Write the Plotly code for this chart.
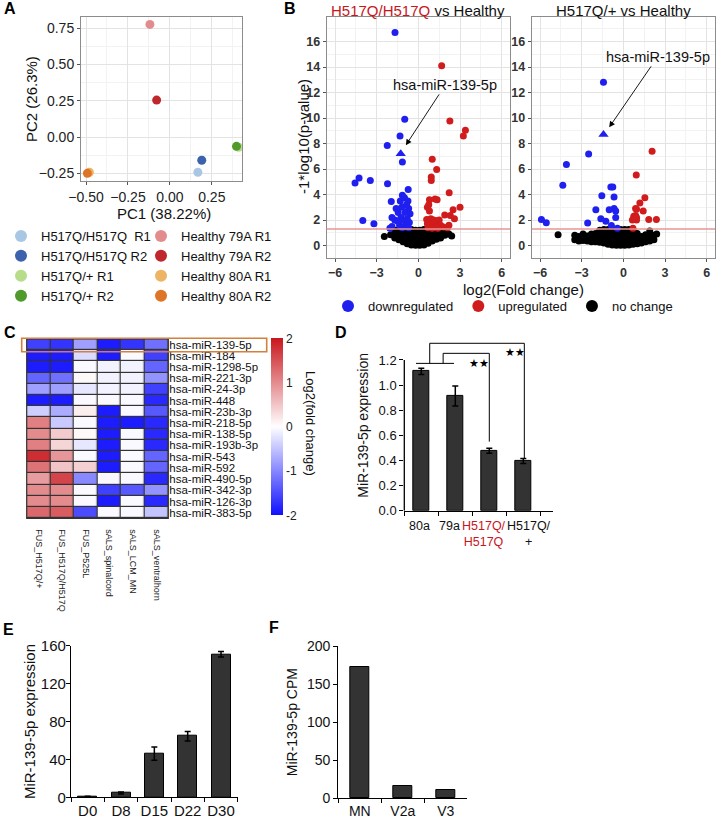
import plotly.graph_objects as go

W, H = 718, 823
def fx(p): return p / W
def fy(p): return 1 - p / H

FONT = "Liberation Sans, Arial, sans-serif"

# ---------------- Panel A: PCA ----------------
pca_labels = ["H517Q/H517Q  R1", "H517Q/H517Q R2", "H517Q/+ R1", "H517Q/+ R2",
              "Healthy 79A R1", "Healthy 79A R2", "Healthy 80A R1", "Healthy 80A R2"]
pca_pc1 = [0.167, 0.19, 0.41, 0.397, -0.119, -0.079, -0.48, -0.492]
pca_pc2 = [-0.243, -0.16, -0.07, -0.064, 0.777, 0.255, -0.243, -0.25]
pca_colors = ["#A9C7E3", "#3B62AC", "#B7DC8C", "#4F9A2B",
              "#E38C8E", "#C0272D", "#EBB563", "#DE7427"]

# ---------------- Panel B: volcano plots ----------------
hh_down_x = [-1.68, -0.98, -1.32, -2.24, -1.15, -4.56, -4.27, -3.46, -2.22, -0.73,
             -1.15, -1.0, -1.3, -0.75, -1.95, -0.85, -1.6, -1.2, -0.7, -1.45,
             -0.95, -0.6, -4.0, -3.2, -1.9, -1.7, -1.5, -1.25, -1.05, -0.8,
             -0.65, -1.9, -1.35, -0.95, -0.7, -1.15, -2.05]
hh_down_y = [16.7, 9.9, 8.6, 7.85, 6.55, 4.9, 5.3, 5.1, 4.85, 4.4,
             3.95, 3.75, 3.5, 3.5, 3.45, 3.2, 2.9, 3.0, 2.9, 2.6,
             2.6, 2.5, 1.97, 1.7, 2.2, 2.0, 1.9, 2.2, 2.0, 2.1,
             1.8, 1.5, 1.6, 1.55, 1.4, 1.4, 1.35]
hh_up_x = [1.68, 2.27, 3.39, 3.24, 1.0, 1.32, 0.93, 0.93, 2.22, 0.8,
           1.2, 1.35, 0.75, 0.65, 3.0, 0.8, 2.5, 1.9, 2.3, 2.6,
           0.6, 0.75, 0.9, 1.1, 1.3, 1.5, 0.65, 0.85, 1.05, 1.25,
           1.6, 1.8, 2.1, 0.7, 1.0, 1.4, 2.2]
hh_up_y = [14.1, 9.76, 9.05, 8.6, 6.77, 5.96, 5.38, 5.1, 4.15, 3.6,
           3.65, 3.6, 3.2, 3.0, 3.0, 2.7, 2.8, 2.4, 2.35, 2.1,
           2.05, 2.0, 2.1, 2.0, 1.95, 2.0, 1.7, 1.6, 1.75, 1.5,
           1.6, 1.45, 1.4, 1.4, 1.35, 1.35, 1.6]
hh_nc_x = [-2.45, -2.0,
           -1.7, -1.7, -1.7,
           -1.4, -1.4, -1.4, -1.4,
           -1.1, -1.1, -1.1, -1.1, -1.1,
           -0.8, -0.8, -0.8, -0.8, -0.8, -0.8,
           -0.5, -0.5, -0.5, -0.5, -0.5, -0.5, -0.5,
           -0.2, -0.2, -0.2, -0.2, -0.2, -0.2, -0.2,
           0.1, 0.1, 0.1, 0.1, 0.1, 0.1, 0.1,
           0.4, 0.4, 0.4, 0.4, 0.4, 0.4, 0.4,
           0.7, 0.7, 0.7, 0.7, 0.7, 0.7,
           1.0, 1.0, 1.0, 1.0, 1.0,
           1.3, 1.3, 1.3, 1.3,
           1.6, 1.6, 1.6,
           1.9, 1.9,
           2.2, 2.4]
hh_nc_y = [0.7, 0.85,
           0.6, 0.9, 1.2,
           0.45, 0.65, 0.95, 1.25,
           0.3, 0.45, 0.7, 0.95, 1.25,
           0.15, 0.3, 0.5, 0.75, 1.0, 1.25,
           0.05, 0.15, 0.3, 0.5, 0.75, 1.0, 1.25,
           0.02, 0.1, 0.25, 0.45, 0.7, 0.95, 1.2,
           0.02, 0.1, 0.25, 0.45, 0.7, 0.95, 1.2,
           0.05, 0.12, 0.3, 0.5, 0.75, 1.0, 1.25,
           0.18, 0.3, 0.5, 0.75, 1.0, 1.25,
           0.35, 0.5, 0.7, 0.95, 1.2,
           0.5, 0.65, 0.9, 1.2,
           0.6, 0.85, 1.1,
           0.8, 1.0,
           0.9, 0.75]
hh_mir139 = (-1.27, 7.2)

het_down_x = [-1.43, -2.5, -4.1, -4.36, -5.9, -5.55, -2.57, -0.9, -0.76, -1.55,
              -0.67, -1.98, -1.02, -0.67, -0.55, -1.62, -1.26, -0.55, -0.86, -0.43]
het_down_y = [12.8, 7.17, 6.35, 4.72, 2.05, 1.78, 1.76, 4.6, 4.6, 3.9,
              3.8, 2.8, 2.8, 2.9, 2.7, 2.1, 1.9, 2.2, 1.57, 1.36]
het_up_x = [2.07, 0.93, 1.55, 1.19, 0.88, 0.95, 1.43, 0.75, 0.88, 0.95,
            0.65, 0.95, 0.82, 1.83, 2.38, 0.69]
het_up_y = [7.4, 5.54, 3.75, 3.33, 2.9, 2.85, 2.7, 2.3, 2.35, 2.2,
            2.0, 2.0, 2.15, 2.05, 2.05, 1.36]
het_nc_x = [-4.7,
            -3.5, -3.5, -3.2, -3.2, -2.9, -2.9, -2.6, -2.6,
            -2.3, -2.3, -2.3, -2.0, -2.0, -2.0,
            -1.7, -1.7, -1.7, -1.7,
            -1.4, -1.4, -1.4, -1.4, -1.4,
            -1.1, -1.1, -1.1, -1.1, -1.1,
            -0.8, -0.8, -0.8, -0.8, -0.8,
            -0.5, -0.5, -0.5, -0.5, -0.5, -0.5,
            -0.2, -0.2, -0.2, -0.2, -0.2, -0.2,
            0.1, 0.1, 0.1, 0.1, 0.1, 0.1,
            0.4, 0.4, 0.4, 0.4, 0.4, 0.4,
            0.7, 0.7, 0.7, 0.7, 0.7,
            1.0, 1.0, 1.0, 1.0,
            1.3, 1.3, 1.3,
            1.6, 1.6, 1.6,
            1.9, 1.9, 1.9,
            2.2, 2.2, 2.4]
het_nc_y = [0.85,
            0.45, 0.8, 0.35, 0.7, 0.4, 0.9, 0.35, 0.75,
            0.3, 0.6, 0.9, 0.3, 0.6, 0.95,
            0.25, 0.55, 0.85, 1.2,
            0.2, 0.5, 0.8, 1.1, 1.25,
            0.1, 0.4, 0.7, 1.0, 1.25,
            0.05, 0.3, 0.6, 0.9, 1.2,
            0.02, 0.25, 0.5, 0.8, 1.1, 1.25,
            0.02, 0.2, 0.45, 0.7, 1.0, 1.25,
            0.02, 0.2, 0.45, 0.7, 1.0, 1.25,
            0.05, 0.25, 0.5, 0.8, 1.1, 1.25,
            0.1, 0.35, 0.6, 0.9, 1.2,
            0.15, 0.4, 0.65, 0.95,
            0.2, 0.45, 0.7,
            0.3, 0.6, 0.85,
            0.35, 0.7, 1.15,
            0.45, 0.8, 0.9]
het_mir139 = (-1.43, 8.7)
p_threshold = 1.3

# ---------------- Panel C: heatmap ----------------
hm_cols = ["FUS_H517Q/+", "FUS_H517Q/H517Q", "FUS_P525L",
           "sALS_spinalcord", "sALS_LCM_MN", "sALS_ventralhorn"]
hm_rows = ["hsa-miR-139-5p", "hsa-miR-184", "hsa-miR-1298-5p", "hsa-miR-221-3p",
           "hsa-miR-24-3p", "hsa-miR-448", "hsa-miR-23b-3p", "hsa-miR-218-5p",
           "hsa-miR-138-5p", "hsa-miR-193b-3p", "hsa-miR-543", "hsa-miR-592",
           "hsa-miR-490-5p", "hsa-miR-342-3p", "hsa-miR-126-3p", "hsa-miR-383-5p"]
hm_values = [
    [-1.6, -1.7, -0.8, -1.9, -1.7, -1.2],
    [-1.9, -1.9, -0.3, -1.9, -0.05, -1.6],
    [-1.9, -1.9, -0.05, -0.1, -0.1, -1.3],
    [-1.3, -1.2, 0.05, -0.1, -0.1, -0.9],
    [-0.8, -0.8, -0.2, -0.1, -0.1, -1.6],
    [-1.9, -1.9, -0.05, -0.05, -0.05, -1.8],
    [-0.4, -0.7, 0.15, -1.9, -0.05, -1.4],
    [1.1, -0.45, -0.05, -1.9, -1.9, -1.8],
    [1.0, 0.45, 0.05, -1.9, -0.05, -1.8],
    [1.1, 0.35, -0.2, -1.9, -0.05, -1.8],
    [1.8, 0.9, -0.05, -1.9, -0.05, -1.3],
    [1.2, 0.5, 0.4, -1.9, -0.05, -1.3],
    [0.85, 1.6, -1.0, -0.05, -0.05, -1.8],
    [1.0, 1.0, -0.05, -1.6, -1.4, -0.9],
    [1.0, 1.0, -0.05, -1.9, -0.05, -1.8],
    [1.3, 1.4, -1.5, -0.05, -0.05, -0.5],
]

# ---------------- Panel D ----------------
d_cats = ["80a", "79a", "H517Q/H517Q", "H517Q/+"]
d_labels = ["80a", "79a",
            '<span style="color:#C8161D">H517Q/<br>H517Q</span>', "H517Q/<br>+"]
d_values = [1.11, 0.913, 0.478, 0.396]
d_errors = [0.025, 0.08, 0.02, 0.02]

# ---------------- Panel E ----------------
e_cats = ["D0", "D8", "D15", "D22", "D30"]
e_values = [0.8, 4.5, 46, 64.5, 151]
e_errors = [0.2, 1.0, 7, 5, 3]

# ---------------- Panel F ----------------
f_cats = ["MN", "V2a", "V3"]
f_values = [173, 16, 11]

BLUE, RED, BLACK = "#1F1FF0", "#D01C1C", "#000000"

fig = go.Figure()

# Panel A traces
for i in range(len(pca_labels)):
    fig.add_trace(go.Scatter(
        x=[pca_pc1[i]], y=[pca_pc2[i]], mode="markers", name=pca_labels[i],
        marker=dict(size=9, color=pca_colors[i]),
        xaxis="x", yaxis="y",
        legend="legend" if i < 4 else "legend2", showlegend=True))

# Panel B traces
def volcano(xa, ya, nc_x, nc_y, dn_x, dn_y, up_x, up_y, tri, show):
    fig.add_trace(go.Scatter(x=nc_x, y=nc_y, mode="markers", name="no change",
                             marker=dict(size=7, color=BLACK), xaxis=xa, yaxis=ya,
                             legend="legend3", showlegend=show, legendrank=3))
    fig.add_trace(go.Scatter(x=dn_x, y=dn_y, mode="markers", name="downregulated",
                             marker=dict(size=7, color=BLUE), xaxis=xa, yaxis=ya,
                             legend="legend3", showlegend=show, legendrank=1))
    fig.add_trace(go.Scatter(x=up_x, y=up_y, mode="markers", name="upregulated",
                             marker=dict(size=7, color=RED), xaxis=xa, yaxis=ya,
                             legend="legend3", showlegend=show, legendrank=2))
    fig.add_trace(go.Scatter(x=[tri[0]], y=[tri[1]], mode="markers",
                             marker=dict(size=9, color=BLUE, symbol="triangle-up"),
                             xaxis=xa, yaxis=ya, showlegend=False))

volcano("x2", "y2", hh_nc_x, hh_nc_y, hh_down_x, hh_down_y, hh_up_x, hh_up_y, hh_mir139, True)
volcano("x3", "y3", het_nc_x, het_nc_y, het_down_x, het_down_y, het_up_x, het_up_y, het_mir139, False)

# Panel C heatmap
fig.add_trace(go.Heatmap(
    z=hm_values, x=hm_cols, y=hm_rows, xaxis="x5", yaxis="y5",
    zmin=-2, zmax=2, xgap=1.2, ygap=1.2,
    colorscale=[[0, "#1010FF"], [0.5, "#FFFFFF"], [1, "#C8161D"]],
    colorbar=dict(x=fx(271), xanchor="left", y=fy(427), yanchor="middle",
                  len=177, lenmode="pixels", thickness=12, xpad=0, ypad=0,
                  outlinewidth=0, tickvals=[-2, -1, 0, 1, 2],
                  ticktext=["-2", "-1", "0", "1", "2"], ticks="",
                  tickfont=dict(size=12, color="#222"))))

# Panel D bars
fig.add_trace(go.Bar(x=d_cats, y=d_values, width=0.49, xaxis="x4", yaxis="y4",
                     marker=dict(color="#333333", line=dict(color="#000", width=1)),
                     error_y=dict(type="data", array=d_errors, color="#000",
                                  thickness=1.5, width=3), showlegend=False))
# Panel E bars
fig.add_trace(go.Bar(x=e_cats, y=e_values, width=0.57, xaxis="x6", yaxis="y6",
                     marker=dict(color="#333333", line=dict(color="#000", width=1)),
                     error_y=dict(type="data", array=e_errors, color="#000",
                                  thickness=1.5, width=3), showlegend=False))
# Panel F bars
fig.add_trace(go.Bar(x=f_cats, y=f_values, width=0.42, xaxis="x7", yaxis="y7",
                     marker=dict(color="#333333", line=dict(color="#000", width=1)),
                     showlegend=False))

gg_grid = dict(showgrid=True, gridcolor="#E3E3E3", gridwidth=1, zeroline=False,
               showline=True, linecolor="#8C8C8C", linewidth=1, mirror=True,
               ticks="outside", ticklen=3, tickcolor="#555", automargin=False)

bar_axis = dict(showgrid=False, zeroline=False, showline=True, linecolor="#000",
                linewidth=1.3, ticks="outside", ticklen=4, tickcolor="#000", tickwidth=1.3,
                automargin=False)

layout = dict(
    template="none",
    width=W, height=H, margin=dict(l=0, r=0, t=0, b=0, autoexpand=False),
    paper_bgcolor="white", plot_bgcolor="white",
    font=dict(family=FONT, color="#111"),
    bargap=0,
    # A
    xaxis=dict(domain=[fx(81), fx(242)], anchor="y", range=[-0.53, 0.43],
               dtick=0.25, tick0=0, tickformat=".2f",
               tickfont=dict(size=14, color="#222"),
               minor=dict(dtick=0.125, showgrid=True, gridcolor="#F2F2F2"), **gg_grid),
    yaxis=dict(domain=[fy(181), fy(17)], anchor="x", range=[-0.303, 0.828],
               dtick=0.25, tick0=0, tickformat=".2f",
               tickfont=dict(size=14, color="#222"),
               minor=dict(dtick=0.125, showgrid=True, gridcolor="#F2F2F2"), **gg_grid),
    # B left
    xaxis2=dict(domain=[fx(326.7), fx(510)], anchor="y2", range=[-6.6, 6.6],
                tickvals=[-6, -3, 0, 3, 6],
                tickfont=dict(size=12.5, color="#333", weight="bold"),
                minor=dict(tickvals=[-4.5, -1.5, 1.5, 4.5], showgrid=True,
                           gridcolor="#F2F2F2", ticks=""), **gg_grid),
    yaxis2=dict(domain=[fy(258.3), fy(17.3)], anchor="x2", range=[-1.0, 17.9],
                tickvals=[0, 2, 4, 6, 8, 10, 12, 14, 16],
                tickfont=dict(size=12.5, color="#333", weight="bold"),
                minor=dict(tickvals=[1, 3, 5, 7, 9, 11, 13, 15, 17], showgrid=True,
                           gridcolor="#F2F2F2", ticks=""), **gg_grid),
    # B right
    xaxis3=dict(domain=[fx(531.7), fx(715)], anchor="y3", range=[-6.6, 6.6],
                tickvals=[-6, -3, 0, 3, 6],
                tickfont=dict(size=12.5, color="#333", weight="bold"),
                minor=dict(tickvals=[-4.5, -1.5, 1.5, 4.5], showgrid=True,
                           gridcolor="#F2F2F2", ticks=""), **gg_grid),
    yaxis3=dict(domain=[fy(258.3), fy(17.3)], anchor="x3", range=[-1.0, 17.9],
                tickvals=[0, 2, 4, 6, 8, 10, 12, 14, 16],
                tickfont=dict(size=12.5, color="#333", weight="bold"),
                minor=dict(tickvals=[1, 3, 5, 7, 9, 11, 13, 15, 17], showgrid=True,
                           gridcolor="#F2F2F2", ticks=""), **gg_grid),
    # D
    xaxis4=dict(domain=[fx(404.3), fx(553.3)], anchor="y4", type="category",
                tickson="boundaries", showticklabels=False, **bar_axis),
    yaxis4=dict(domain=[fy(510.7), fy(339.9)], anchor="x4", range=[0, 1.36],
                tickvals=[0, 0.2, 0.4, 0.6, 0.8, 1.0, 1.2], tickformat=".1f",
                tickfont=dict(size=13, color="#111"),
                title=dict(text="MiR-139-5p expression", font=dict(size=14), standoff=6),
                showgrid=False, zeroline=False, showline=False, automargin=False,
                ticks="outside", ticklen=4, tickcolor="#000", tickwidth=1.3),
    # C heatmap
    xaxis5=dict(domain=[fx(26.7), fx(168.3)], anchor="y5", tickangle=90,
                tickmode="array", tickvals=hm_cols, ticklabelstandoff=10,
                tickfont=dict(size=9, color="#222"), ticks="", showgrid=False,
                zeroline=False, showline=False, automargin=False),
    yaxis5=dict(domain=[fy(518.3), fy(339)], anchor="x5", side="right",
                tickmode="array", tickvals=hm_rows,
                autorange="reversed", tickfont=dict(size=11.5, color="#111"),
                ticks="", showgrid=False, zeroline=False, showline=False,
                automargin=False),
    # E
    xaxis6=dict(domain=[fx(71), fx(237.7)], anchor="y6", type="category",
                tickson="boundaries", tickangle=0,
                tickfont=dict(size=15, color="#111"), **bar_axis),
    yaxis6=dict(domain=[fy(797.3), fy(645.7)], anchor="x6", range=[0, 160],
                tickvals=[0, 40, 80, 120, 160], tickfont=dict(size=15, color="#111"),
                ticklabelstandoff=-3,
                title=dict(text="MiR-139-5p expression", font=dict(size=15), standoff=1),
                **bar_axis),
    # F
    xaxis7=dict(domain=[fx(338.3), fx(467.3)], anchor="y7", type="category",
                tickson="boundaries", tickangle=0,
                tickfont=dict(size=14, color="#111"), **bar_axis),
    yaxis7=dict(domain=[fy(798.3), fy(646)], anchor="x7", range=[0, 200],
                tickvals=[0, 50, 100, 150, 200], tickfont=dict(size=14, color="#111"),
                title=dict(text="MiR-139-5p CPM", font=dict(size=14), standoff=6),
                **bar_axis),
    legend=dict(x=fx(1), y=fy(221), xanchor="left", yanchor="top",
                font=dict(size=13, color="#111"), bgcolor="rgba(0,0,0,0)",
                itemsizing="constant", tracegroupgap=0),
    legend2=dict(x=fx(141), y=fy(221), xanchor="left", yanchor="top",
                 font=dict(size=13, color="#111"), bgcolor="rgba(0,0,0,0)",
                 itemsizing="constant", tracegroupgap=0),
    legend3=dict(x=fx(328), y=fy(306), xanchor="left", yanchor="middle",
                 orientation="h", font=dict(size=13, color="#111"),
                 bgcolor="rgba(0,0,0,0)", itemsizing="constant"),
)
fig.update_layout(**layout)

shapes = []
# threshold lines
for xa, ya in (("x2", "y2"), ("x3", "y3")):
    shapes.append(dict(type="line", xref=f"{xa} domain", yref=ya, x0=0, x1=1,
                       y0=p_threshold, y1=p_threshold,
                       line=dict(color="#E89494", width=1.5)))
# heatmap borders
shapes.append(dict(type="rect", xref="x5 domain", yref="y5 domain", x0=0, x1=1,
                   y0=0, y1=1, fillcolor="#333", line=dict(width=0), layer="below"))
shapes.append(dict(type="rect", xref="x5 domain", yref="y5 domain", x0=0, x1=1,
                   y0=0, y1=1, line=dict(color="#333", width=1.2)))
# highlight box
shapes.append(dict(type="rect", xref="paper", yref="paper",
                   x0=fx(21.7), x1=fx(266.7), y0=fy(351.7), y1=fy(338.3),
                   line=dict(color="#D2803A", width=1.6)))
# D y-axis line (stops at 1.2)
shapes.append(dict(type="line", xref="x4 domain", yref="y4", x0=0, x1=0, y0=0, y1=1.2,
                   line=dict(color="#000", width=1.3)))
# D significance brackets
br = dict(type="line", xref="x4", yref="y4", line=dict(color="#000", width=1))
for (x0, y0, x1, y1) in [(-0.156, 1.173, 0.963, 1.173), (0.248, 1.173, 0.248, 1.333),
                         (0.248, 1.333, 3.03, 1.333), (3.03, 1.333, 3.03, 0.417),
                         (0.642, 1.173, 0.642, 1.253), (0.642, 1.253, 2.0, 1.253),
                         (2.0, 1.253, 2.0, 0.55)]:
    shapes.append(dict(br, x0=x0, y0=y0, x1=x1, y1=y1))
fig.update_layout(shapes=shapes)

ann = []
def letter(t, x, y):
    ann.append(dict(text=f"<b>{t}</b>", x=fx(x), y=fy(y), xref="paper", yref="paper",
                    showarrow=False, xanchor="left", yanchor="middle",
                    font=dict(size=16, color="#000")))
letter("A", 2, 9)
letter("B", 282, 9)
letter("C", 2, 332)
letter("D", 333, 332)
letter("E", 1, 629)
letter("F", 267, 627)

def ptext(t, x, y, size, angle=0):
    ann.append(dict(text=t, x=fx(x), y=fy(y), xref="paper", yref="paper",
                    showarrow=False, xanchor="center", yanchor="middle",
                    textangle=angle, font=dict(size=size, color="#111")))

ptext("PC1 (38.22%)", 164, 213, 15)
ptext("PC2 (26.3%)", 31, 99, 15, -90)
ptext('<span style="color:#C8161D">H517Q/H517Q</span> vs Healthy', 418, 10, 15)
ptext("H517Q/+ vs Healthy", 623, 10, 15)
ptext("-1*log10(p-value)", 303, 137, 15, -90)
ptext("log2(Fold change)", 523, 289, 15)
ptext("Log2(fold change)", 310, 423, 13, 90)

# D category labels (tied to the category axis, slightly offset like the original)
for i, (lab, sh) in enumerate(zip(d_labels, [-2, -6, -5, 6])):
    ann.append(dict(text=lab, x=i, y=0, xref="x4", yref="y4", showarrow=False,
                    xanchor="center", yanchor="top", xshift=sh, yshift=-6,
                    font=dict(size=12.5, color="#111")))

# arrows
ann.append(dict(text="hsa-miR-139-5p", x=-0.9, y=7.87, xref="x2", yref="y2",
                ax=1.94, ay=12.6, axref="x2", ayref="y2", showarrow=True,
                arrowhead=2, arrowsize=1.3, arrowwidth=0.9, arrowcolor="#000",
                font=dict(size=14.5, color="#111")))
ann.append(dict(text="hsa-miR-139-5p", x=-1.02, y=9.27, xref="x3", yref="y3",
                ax=2.47, ay=14.8, axref="x3", ayref="y3", showarrow=True,
                arrowhead=2, arrowsize=1.3, arrowwidth=0.9, arrowcolor="#000",
                font=dict(size=14.5, color="#111")))
# stars
ann.append(dict(text="★★", x=1.7, y=1.18, xref="x4", yref="y4", showarrow=False,
                font=dict(size=11, color="#000")))
ann.append(dict(text="★★", x=2.75, y=1.26, xref="x4", yref="y4", showarrow=False,
                font=dict(size=11, color="#000")))
fig.update_layout(annotations=ann)

fig.write_html("out.html", config={"displayModeBar": False},
               post_script="document.body.style.margin='0';"
                           "document.body.style.overflow='hidden';")
